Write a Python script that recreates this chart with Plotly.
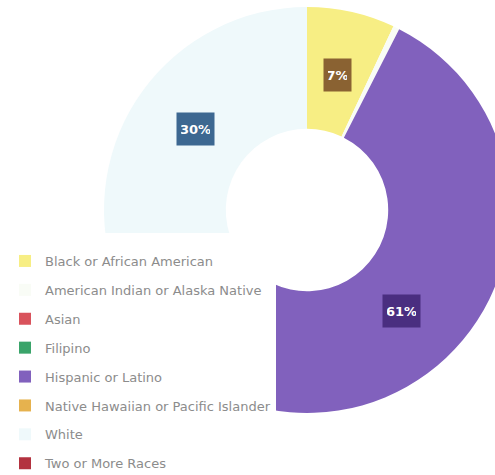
import math
import plotly.graph_objects as go

# Student enrollment by race / ethnicity (percent of total)
groups = [
    "Black or African American",
    "American Indian or Alaska Native",
    "Asian",
    "Filipino",
    "Hispanic or Latino",
    "Native Hawaiian or Pacific Islander",
    "White",
    "Two or More Races",
]
shares = [7, 0.5, 0, 0, 61, 1.5, 30, 0]

slice_colors = [
    "#f7ee84",  # Black or African American
    "#f9fcf6",  # American Indian or Alaska Native
    "#d9535c",  # Asian
    "#3aa46a",  # Filipino
    "#8161bd",  # Hispanic or Latino
    "#e6b24e",  # Native Hawaiian or Pacific Islander
    "#eff9fb",  # White
    "#b3323f",  # Two or More Races
]
# dark tag colours for the slices that carry a percentage label
tag_colors = {0: "#8a6232", 4: "#4a2e80", 6: "#3d6891"}

W, H = 510, 500
# ring geometry in pixels from the top-left corner
CX, CY, R = 307, 210, 203
HOLE = 0.4

dom_x = [(CX - R) / W, (CX + R) / W]
dom_y = [1 - (CY + R) / H, 1 - (CY - R) / H]

fig = go.Figure()
fig.add_trace(go.Pie(
    labels=groups,
    values=shares,
    marker=dict(colors=slice_colors, line=dict(width=0)),
    sort=False,
    direction="clockwise",
    rotation=0,
    hole=HOLE,
    textinfo="none",
    hoverinfo="label+percent",
    showlegend=False,
    domain=dict(x=dom_x, y=dom_y),
))

# one legend entry per group, each in its own group so the rows are spaced out
for i, (g, c) in enumerate(zip(groups, slice_colors)):
    fig.add_trace(go.Pie(
        labels=[g],
        values=[1],
        marker=dict(colors=[c]),
        textinfo="none",
        hoverinfo="skip",
        legendgroup=f"g{i}",
        showlegend=True,
        domain=dict(x=[0, 0.001], y=[0, 0.001]),
    ))

# percentage tags at the middle of each labelled slice
r_tag = R * 0.68
total = sum(shares)
cum = 0.0
for i, v in enumerate(shares):
    mid = (cum + v / 2) / total
    cum += v
    if i not in tag_colors:
        continue
    ang = 2 * math.pi * mid
    x = CX + r_tag * math.sin(ang)
    y = CY - r_tag * math.cos(ang)
    txt = f"{round(v / total * 100)}%"
    fig.add_annotation(
        x=x / W, y=1 - y / H, xref="paper", yref="paper",
        xanchor="center", yanchor="middle",
        text=f"<b>{txt}</b>", showarrow=False,
        font=dict(family="DejaVu Sans", size=13, color="#ffffff"),
        bgcolor=tag_colors[i],
        width=10 * len(txt) - 1, height=24, borderpad=4,
    )

fig.update_layout(
    width=W, height=H,
    margin=dict(l=0, r=0, t=0, b=0, autoexpand=False),
    paper_bgcolor="#ffffff",
    plot_bgcolor="#ffffff",
    showlegend=True,
    legend=dict(
        x=5 / W, y=1 - 233 / H, xanchor="left", yanchor="top",
        bgcolor="#ffffff",
        tracegroupgap=9,
        title=dict(text="\u00a0", font=dict(size=10, color="#ffffff")),
        font=dict(family="DejaVu Sans", size=13, color="#8c8c8c"),
    ),
)

fig.write_html("out.html")
